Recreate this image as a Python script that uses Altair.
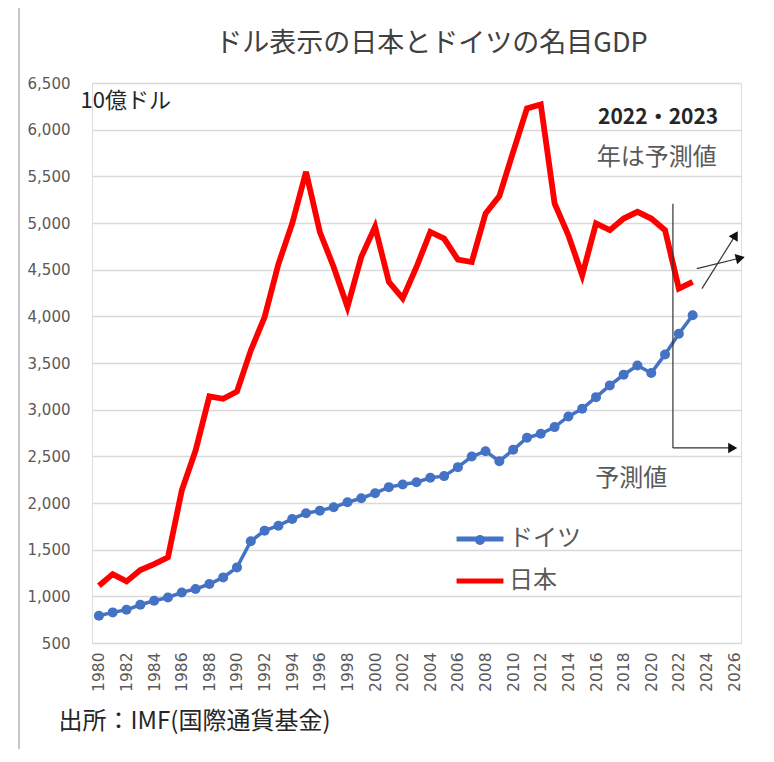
import altair as alt
import pandas as pd

# ---- data (IMF nominal GDP, USD billions) ----
years = list(range(1980, 2024))
japan = [1113, 1238, 1160, 1282, 1346, 1418, 2133, 2562, 3142, 3117,
         3195, 3635, 3993, 4560, 4995, 5548, 4904, 4529, 4100, 4637,
         4959, 4368, 4193, 4529, 4904, 4833, 4607, 4582, 5102, 5288,
         5763, 6228, 6271, 5209, 4869, 4440, 4995, 4923, 5048, 5120,
         5048, 4923, 4297, 4368]
germany = [792, 828, 856, 910, 953, 988, 1042, 1078, 1132, 1203,
           1310, 1590, 1704, 1757, 1829, 1890, 1918, 1954, 2008, 2051,
           2105, 2170, 2198, 2223, 2270, 2288, 2384, 2498, 2555, 2448,
           2570, 2699, 2742, 2813, 2927, 3010, 3134, 3260, 3374, 3474,
           3392, 3592, 3814, 4011]
series_names = ["ドイツ", "日本"]
series_colors = ["#4472C4", "#FF0000"]
x_ticks = list(range(1980, 2027, 2))
y_ticks = list(range(500, 7000, 500))

# annotation texts (data coordinates)
head_text = ["2022・2023"]
head_x = [2020.5]
head_y = [6124]
note_text = ["年は予測値", "予測値"]
note_x = [2020.4, 2018.55]
note_y = [5695, 2262]

# annotation segments (data coordinates)
seg_x = [2021.57, 2021.57, 2023.67, 2023.3]
seg_y = [5207, 2590, 4297, 4511]
seg_x2 = [2021.57, 2025.9, 2026.1, 2026.45]
seg_y2 = [2590, 2590, 4870, 4625]
head_angle = [0, 0, 300.7, 346]

FONT = "Noto Sans CJK JP"

df = pd.DataFrame({
    "年": years * 2,
    "値": germany + japan,
    "国": [series_names[0]] * len(years) + [series_names[1]] * len(years),
})
df_de = df[df["国"] == series_names[0]]

x_scale = alt.Scale(domain=[1979.5, 2026.5], nice=False, zero=False)
y_scale = alt.Scale(domain=[500, 6500], nice=False, zero=False)
x_axis = alt.Axis(values=x_ticks, format="d", labelAngle=270,
                  labelOverlap=False,
                  grid=False, ticks=False, domain=False,
                  labelPadding=9, labelFontSize=15.5,
                  labelFont="DejaVu Sans", labelColor="#595959",
                  title="出所：IMF(国際通貨基金)", titleFont=FONT,
                  titleFontSize=24, titleFontWeight="normal",
                  titleColor="#262626", titleAlign="left",
                  titleBaseline="middle", titleX=-34, titleY=78,
                  titleAngle=0)
y_axis = alt.Axis(values=y_ticks, format=",.0f", grid=True,
                  labelOverlap=False,
                  gridColor="#d9d9d9", gridWidth=1.5,
                  ticks=False, domain=False, labelPadding=22,
                  labelFont="DejaVu Sans", labelFontSize=15,
                  labelColor="#595959",
                  title="10億ドル", titleFont=FONT, titleFontSize=22,
                  titleFontWeight="normal", titleColor="#262626",
                  titleAngle=0, titleAlign="left",
                  titleBaseline="middle", titleX=-12, titleY=17)


def X(field="年"):
    return alt.X(f"{field}:Q", scale=x_scale, axis=x_axis)


def Y(field="値"):
    return alt.Y(f"{field}:Q", scale=y_scale, axis=y_axis)


lines = alt.Chart(df).mark_line().encode(
    x=X(),
    y=Y(),
    color=alt.Color("国:N",
                    scale=alt.Scale(domain=series_names, range=series_colors),
                    legend=alt.Legend(title=None, orient="none",
                                      legendX=362, legendY=430,
                                      symbolType="stroke", symbolSize=2200,
                                      symbolStrokeWidth=5,
                                      labelFont=FONT, labelFontSize=24,
                                      labelColor="#595959", labelOffset=3,
                                      rowPadding=4, padding=0)),
    strokeWidth=alt.StrokeWidth("国:N",
                                scale=alt.Scale(domain=series_names, range=[3.5, 5.8]),
                                legend=None),
)

points = alt.Chart(df_de).mark_circle(size=100, opacity=1).encode(
    x=X(),
    y=Y(),
    color=alt.Color("国:N",
                    scale=alt.Scale(domain=[series_names[0]], range=[series_colors[0]]),
                    legend=alt.Legend(title=None, orient="none",
                                      legendX=382, legendY=451,
                                      symbolType="circle", symbolSize=100,
                                      labelExpr="''", labelFontSize=1,
                                      labelOffset=0, padding=0)),
)

seg_df = pd.DataFrame({"年": seg_x, "値": seg_y, "年2": seg_x2, "値2": seg_y2,
                       "ang": head_angle})
segs = alt.Chart(seg_df).mark_rule(color="#333333", strokeWidth=1.2).encode(
    x=X(), y=Y(), x2="年2", y2="値2")
heads = alt.Chart(seg_df.iloc[1:]).mark_point(
    shape="triangle-right", filled=True, color="#111111", size=110, opacity=1
).encode(x=X("年2"), y=Y("値2"), angle=alt.Angle("ang:Q", scale=None))

head_df = pd.DataFrame({"t": head_text, "年": head_x, "値": head_y})
head_lbl = alt.Chart(head_df).mark_text(
    font=FONT, fontSize=21, color="#262626", fontWeight="bold", align="center",
    baseline="middle").encode(x=X(), y=Y(), text="t:N")

note_df = pd.DataFrame({"t": note_text, "年": note_x, "値": note_y})
note_lbl = alt.Chart(note_df).mark_text(
    font=FONT, fontSize=24, color="#595959", align="center",
    baseline="middle").encode(x=X(), y=Y(), text="t:N")

border = alt.Chart(pd.DataFrame({"a": [0]})).mark_rule(
    color="#c8c8c8", strokeWidth=2).encode(
    x=alt.value(-73), y=alt.value(-81), y2=alt.value(666))

chart = alt.layer(border, lines, points, segs, heads, head_lbl, note_lbl).resolve_scale(
    color="independent"
).properties(
    width=649, height=560,
    padding={"left": 84, "top": 75, "right": 25, "bottom": 111},
    autosize=alt.AutoSizeParams(type="none"),
    title=alt.TitleParams("ドル表示の日本とドイツの名目GDP", font=FONT, fontSize=27,
                          fontWeight="normal", color="#404040", anchor="middle",
                          dx=15, offset=-57),
).configure_view(strokeWidth=0).configure(background="white")

chart.save("out.html", embed_options={"renderer": "svg", "actions": False})
